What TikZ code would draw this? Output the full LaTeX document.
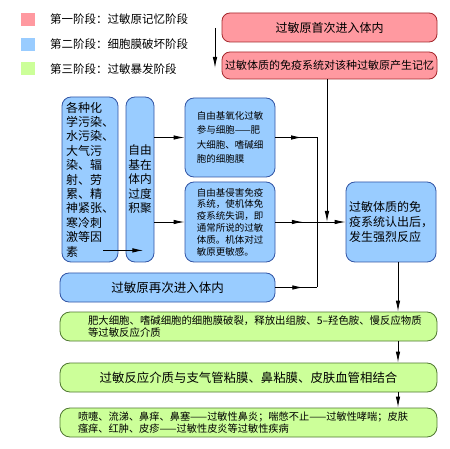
\documentclass[tikz,border=0pt]{standalone}
\usepackage{fontspec}
\setmainfont{Noto Sans CJK SC}
\usepackage{tikz}
\usetikzlibrary{arrows.meta}
\usetikzlibrary{decorations.markings}
\tikzset{>={Latex[length=11pt,width=4.5pt]}}
\usepackage{xcolor}
\definecolor{pinkfill}{RGB}{255,153,160}
\definecolor{pinkline}{RGB}{165,40,45}
\definecolor{bluefill}{RGB}{153,204,255}
\definecolor{blueline}{RGB}{50,85,165}
\definecolor{greenfill}{RGB}{204,255,153}
\definecolor{greenline}{RGB}{80,120,50}
\tikzstyle{keybox}=[minimum width=14pt,minimum height=13pt,inner sep=0pt]
\tikzstyle{stone}=[draw=pinkline,fill=pinkfill,rounded corners=8pt,line width=0.8pt,inner sep=0pt]
\tikzstyle{sttwo}=[draw=blueline,fill=bluefill,rounded corners=9pt,line width=0.8pt,inner sep=0pt]
\tikzstyle{stthree}=[draw=greenline,fill=greenfill,rounded corners=10pt,line width=0.8pt,inner sep=0pt]
\tikzstyle{link}=[->,line width=0.9pt]
\tikzset{midarr/.style={postaction={decorate},
  decoration={markings,mark=at position #1 with {\arrow{>}}}}}
\newcommand\fs[2]{\fontsize{#1}{#2}\selectfont}

\begin{document}
\begin{tikzpicture}[x=1pt,y=-1pt]
  \useasboundingbox[fill=white] (0,0) rectangle (450,449);
  \coordinate (bus) at (317,0);
  \coordinate (rail) at (398,0);

  % legend
  \node[keybox,fill=pinkfill] (k1) at (28,19.5) {};
  \node[keybox,fill=bluefill] (k2) at (28,44.5) {};
  \node[keybox,fill=greenfill] (k3) at (28,69) {};
  \node[anchor=west,inner sep=0pt,font=\fs{11.5}{13}] (t1) at (50,19.5) {第一阶段：过敏原记忆阶段};
  \node[anchor=west,inner sep=0pt,font=\fs{11.5}{13}] (t2) at (50,44.5) {第二阶段：细胞膜破坏阶段};
  \node[anchor=west,inner sep=0pt,font=\fs{11.5}{13}] (t3) at (50,69) {第三阶段：过敏暴发阶段};
  \coordinate (a0) at (215,28);
  \coordinate (a1) at (215,68);
  \draw[link] (a0) -- (a1);

  % stage one
  \node[stone,minimum width=215pt,minimum height=29pt,font=\fs{12}{14}] (first) at (329.5,27.5) {过敏原首次进入体内};
  \node[stone,minimum width=215pt,minimum height=27pt,font=\fs{11}{13}] (memory) at (329.5,65.5) {过敏体质的免疫系统对该种过敏原产生记忆};

  % stage two
  \node[sttwo,minimum width=56pt,minimum height=165pt,align=left,font=\fs{12}{14.4}] (src) at (90,179.5)
    {各种化\\学污染、\\水污染、\\大气污\\染、辐\\射、劳\\累、精\\神紧张、\\寒冷刺\\激等因\\素};
  \node[sttwo,minimum width=28pt,minimum height=165pt,align=left,font=\fs{11.7}{14.5}] (fr) at (140,179.5)
    {自由\\基在\\体内\\过度\\积聚};
  \node[sttwo,minimum width=90pt,minimum height=79pt,align=left,font=\fs{9.5}{14.3}] (ox) at (230,137.5)
    {自由基氧化过敏\\参与细胞——肥\\大细胞、嗜碱细\\胞的细胞膜};
  \node[sttwo,minimum width=90pt,minimum height=80pt,align=left,font=\fs{9.5}{11.8}] (im) at (230,222)
    {自由基侵害免疫\\系统，使机体免\\疫系统失调，即\\通常所说的过敏\\体质。机体对过\\敏原更敏感。};
  \node[sttwo,minimum width=215pt,minimum height=29pt,font=\fs{12.5}{14}] (again) at (167.5,287.5) {过敏原再次进入体内};
  \node[sttwo,minimum width=90pt,minimum height=80pt,align=left,font=\fs{12}{15}] (react) at (391,222)
    {过敏体质的免\\疫系统认出后，\\发生强烈反应};

  % stage three
  \node[stthree,minimum width=377pt,minimum height=29pt,text width=370pt,align=left,font=\fs{10.4}{12}] (burst) at (248.5,326.5)
    {\leftskip=24.5pt 肥大细胞、嗜碱细胞的细胞膜破裂，释放出组胺、5–羟色胺、慢反应物质\newline 等过敏反应介质\par};
  \node[stthree,minimum width=377pt,minimum height=29pt,font=\fs{12.4}{14}] (bind) at (248.5,377.5)
    {过敏反应介质与支气管粘膜、鼻粘膜、皮肤血管相结合};
  \node[stthree,minimum width=377pt,minimum height=29pt,text width=370pt,align=left,font=\fs{10.2}{11.5}] (ill) at (248.5,422.5)
    {\leftskip=14.5pt 喷嚏、流涕、鼻痒、鼻塞——过敏性鼻炎；喘憋不止——过敏性哮喘；皮肤\newline 瘙痒、红肿、皮疹——过敏性皮炎等过敏性疾病\par};

  % links
  \draw[link] ([shift={(-15pt,12pt)}]src.south east) -- ([shift={(-11pt,12pt)}]fr.south east);
  \draw[link] (fr.east |- ox.west) -- (ox.west);
  \draw[link] (fr.east |- im.west) -- (im.west);
  \draw[line width=0.9pt,midarr=0.64] (ox.east) -- (ox.east -| bus);
  \draw[line width=0.9pt] (ox.east -| bus) -- (again.east -| bus);
  \draw[line width=0.9pt,midarr=0.67] (again.east) -- (again.east -| bus);
  \draw[link,midarr=0.39] (im.east) -- (react.west);
  \draw[link] ([xshift=-2.5pt]memory.south) -- ([xshift=-2.5pt]memory.south |- react.west);
  \draw[link] (react.south -| rail) -- (burst.north -| rail);
  \draw[link] (burst.south -| rail) -- (bind.north -| rail);
  \draw[link] (bind.south -| rail) -- (ill.north -| rail);
\end{tikzpicture}
\end{document}
